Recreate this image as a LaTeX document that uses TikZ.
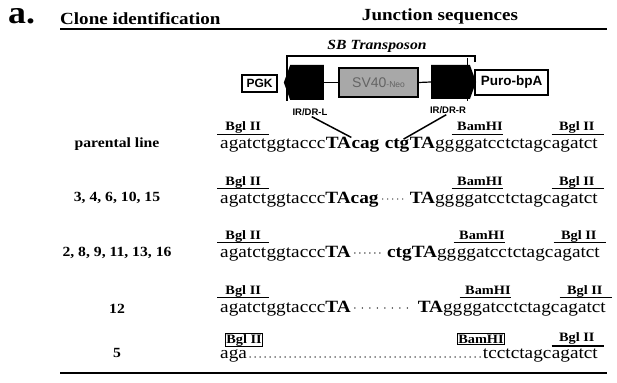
\documentclass[tikz,border=0pt]{standalone}
\usepackage{fontspec}
\usepackage{tikz}
\usetikzlibrary{shapes.symbols}
\newfontfamily\tms[FakeStretch=1.12]{Liberation Serif}
\newfontfamily\hel{Liberation Sans}
\definecolor{boxgray}{RGB}{168,168,168}
\definecolor{neogray}{RGB}{100,100,100}

\begin{document}
\begin{tikzpicture}[x=1pt,y=1pt,
  seq/.style={inner sep=0pt,anchor=base west,font=\tms\fontsize{17.2}{20}\selectfont},
  qes/.style={seq,anchor=base east},
  site/.style={inner sep=0pt,anchor=base,font=\tms\bfseries\fontsize{12.8}{14}\selectfont},
  clone/.style={inner sep=0pt,anchor=base,font=\tms\bfseries\fontsize{14}{16}\selectfont},
  head/.style={inner sep=0pt,font=\tms\bfseries\fontsize{17}{20}\selectfont},
  over/.style={line width=1.2pt},
  dots/.style={line width=1.4pt,line cap=round,dash pattern=on 0pt off #1},
  dots/.default=5pt,
  gene/.style={draw,line width=1.2pt,minimum height=17pt,inner sep=0pt,font=\hel\bfseries\fontsize{12}{14}\selectfont},
  ir/.style={signal,fill=black,inner sep=0pt,signal pointer angle=140},
  irlab/.style={inner sep=0pt,font=\hel\bfseries\fontsize{9.5}{10}\selectfont}]

  \useasboundingbox (0,0) rectangle (617,-382);

  \node[head,anchor=base west,font=\tms\bfseries\fontsize{32}{32}\selectfont] (tag) at (8,-24) {a.};
  \node[head,anchor=base west] (col) at (60,-25) {Clone identification};
  \node[head,anchor=base] (jun) at (440,-21) {Junction sequences};
  \draw[line width=1.5pt] (60,-29) -- (607,-29);

  \node[head,anchor=base,font=\tms\bfseries\itshape\fontsize{14}{16}\selectfont] (sb) at (377,-50) {SB Transposon};
  \draw[line width=1.2pt] (287,-101) -- (287,-56) -- (475,-56) -- (475,-62);
  \node[gene,minimum width=35pt] (pgk) at (259.5,-83.5) {PGK};
  \node[ir,signal to=west,minimum width=40pt,minimum height=35pt] (irl) at (307,-82.5) {};
  \node[gene,fill=boxgray,minimum width=79pt,minimum height=29pt,text=neogray,font=\hel\fontsize{14}{15}\selectfont] (sv) at (378.5,-82.5) {SV40\fontsize{8.5}{9}\selectfont-Neo};
  \node[ir,signal to=east,minimum width=45pt,minimum height=34pt] (irr) at (450.5,-82) {};
  \draw[line width=1pt] (467,-58) -- (467,-101);
  \node[gene,minimum width=73pt,minimum height=25pt,font=\hel\bfseries\fontsize{13.5}{15}\selectfont] (puro) at (511.5,-82.5) {Puro-bpA};
  \draw[line width=1.2pt] (irl.east) -- (sv.west);
  \draw[line width=1.2pt] (sv.east) -- (irr.west);
  \node[irlab] (irlt) at (310,-112) {IR/DR-L};
  \node[irlab] (irrt) at (448,-110) {IR/DR-R};

  % parental line
  \node[clone] (l1) at (117,-147) {parental line};
  \node[seq] (a1) at (220,-149) {agatct};
  \node[seq] (b1) at (a1.base east) {ggtaccc};
  \node[seq] (t1) at (b1.base east) {\bfseries TA};
  \node[seq] (c1) at (t1.base east) {\bfseries cag};
  \node[qes] (r1) at (598,-149) {agatct};
  \node[qes] (n1) at (r1.base west) {tctagc};
  \node[qes] (m1) at (n1.base west) {ggatcc};
  \node[qes] (u1) at (m1.base west) {{\bfseries TA}gg};
  \node[qes] (g1) at (u1.base west) {\bfseries ctg};
  \draw[over] ([xshift=-3pt,yshift=14.5pt]a1.base west) -- ([xshift=3pt,yshift=14.5pt]a1.base east);
  \draw[over] ([xshift=-3pt,yshift=14.5pt]m1.base west) -- ([xshift=-2pt,yshift=14.5pt]m1.base east);
  \draw[over] ([yshift=14.5pt]r1.base west) -- ([xshift=6pt,yshift=14.5pt]r1.base east);
  \node[site] (bgl1) at ([yshift=18pt]a1.base) {Bgl II};
  \node[site] (bam1) at ([yshift=18pt]m1.base) {BamHI};
  \node[site] (bgr1) at ([xshift=2pt,yshift=18pt]r1.base) {Bgl II};
  \draw[line width=1.5pt,shorten <=2pt] (irlt.south) -- (t1.north east);
  \draw[line width=1.5pt,shorten <=2pt] (irrt.south) -- ([xshift=-6pt]g1.north east);

  % 3, 4, 6, 10, 15
  \node[clone] (l2) at (117,-201) {3, 4, 6, 10, 15};
  \node[seq] (a2) at (220,-203) {agatct};
  \node[seq] (b2) at (a2.base east) {ggtaccc{\bfseries TAcag}};
  \node[qes] (r2) at (598,-203) {agatct};
  \node[qes] (n2) at (r2.base west) {tctagc};
  \node[qes] (m2) at (n2.base west) {ggatcc};
  \node[qes] (u2) at (m2.base west) {{\bfseries TA}gg};
  \draw[dots] ([xshift=4pt,yshift=4pt]b2.base east) -- ([xshift=-3pt,yshift=4pt]u2.base west);
  \draw[over] ([xshift=-3pt,yshift=14.5pt]a2.base west) -- ([xshift=3pt,yshift=14.5pt]a2.base east);
  \draw[over] ([xshift=-3pt,yshift=14.5pt]m2.base west) -- ([xshift=-2pt,yshift=14.5pt]m2.base east);
  \draw[over] ([yshift=14.5pt]r2.base west) -- ([xshift=6pt,yshift=14.5pt]r2.base east);
  \node[site] (bgl2) at ([yshift=18pt]a2.base) {Bgl II};
  \node[site] (bam2) at ([yshift=18pt]m2.base) {BamHI};
  \node[site] (bgr2) at ([xshift=2pt,yshift=18pt]r2.base) {Bgl II};

  % 2, 8, 9, 11, 13, 16
  \node[clone] (l3) at (117,-256) {2, 8, 9, 11, 13, 16};
  \node[seq] (a3) at (220,-257) {agatct};
  \node[seq] (b3) at (a3.base east) {ggtaccc{\bfseries TA}};
  \node[qes] (r3) at (600,-257) {agatct};
  \node[qes] (n3) at (r3.base west) {tctagc};
  \node[qes] (m3) at (n3.base west) {ggatcc};
  \node[qes] (u3) at (m3.base west) {{\bfseries ctgTA}gg};
  \draw[dots] ([xshift=4pt,yshift=4pt]b3.base east) -- ([xshift=-3pt,yshift=4pt]u3.base west);
  \draw[over] ([xshift=-3pt,yshift=14.5pt]a3.base west) -- ([xshift=3pt,yshift=14.5pt]a3.base east);
  \draw[over] ([xshift=-3pt,yshift=14.5pt]m3.base west) -- ([xshift=-2pt,yshift=14.5pt]m3.base east);
  \draw[over] ([yshift=14.5pt]r3.base west) -- ([xshift=6pt,yshift=14.5pt]r3.base east);
  \node[site] (bgl3) at ([yshift=18pt]a3.base) {Bgl II};
  \node[site] (bam3) at ([yshift=18pt]m3.base) {BamHI};
  \node[site] (bgr3) at ([xshift=2pt,yshift=18pt]r3.base) {Bgl II};

  % 12
  \node[clone] (l4) at (117,-313) {12};
  \node[seq] (a4) at (220,-312) {agatct};
  \node[seq] (b4) at (a4.base east) {ggtaccc{\bfseries TA}};
  \node[qes] (r4) at (606,-312) {agatct};
  \node[qes] (n4) at (r4.base west) {tctagc};
  \node[qes] (m4) at (n4.base west) {ggatcc};
  \node[qes] (u4) at (m4.base west) {{\bfseries TA}gg};
  \draw[dots=7.5pt] ([xshift=4pt,yshift=4pt]b4.base east) -- ([xshift=-9pt,yshift=4pt]u4.base west);
  \draw[over] ([xshift=-3pt,yshift=14.5pt]a4.base west) -- ([xshift=3pt,yshift=14.5pt]a4.base east);
  \draw[over] ([xshift=-3pt,yshift=14.5pt]m4.base west) -- ([xshift=-2pt,yshift=14.5pt]m4.base east);
  \draw[over] ([yshift=14.5pt]r4.base west) -- ([xshift=6pt,yshift=14.5pt]r4.base east);
  \node[site] (bgl4) at ([yshift=18pt]a4.base) {Bgl II};
  \node[site] (bam4) at ([yshift=18pt]m4.base) {BamHI};
  \node[site] (bgr4) at ([xshift=2pt,yshift=18pt]r4.base) {Bgl II};

  % 5
  \node[clone] (l5) at (117,-357) {5};
  \node[seq] (a5) at (220,-358) {aga};
  \node[qes] (r5) at (598,-358) {agatct};
  \node[qes] (n5) at (r5.base west) {tcctctagc};
  \draw[dots] ([xshift=3pt,yshift=1pt]a5.base east) -- ([xshift=-2pt,yshift=1pt]n5.base west);
  \draw[over] ([yshift=12pt]r5.base west) -- ([xshift=6pt,yshift=12pt]r5.base east);
  \node[site,draw,line width=1.2pt,inner sep=1pt] (bgl5) at (244,-343) {Bgl II};
  \node[site,draw,line width=1.2pt,inner sep=1pt] (bam5) at (481,-343) {BamHI};
  \node[site] (bgr5) at ([xshift=2pt,yshift=17pt]r5.base) {Bgl II};

  \draw[line width=1.5pt] (60,-373) -- (607,-373);
\end{tikzpicture}
\end{document}
